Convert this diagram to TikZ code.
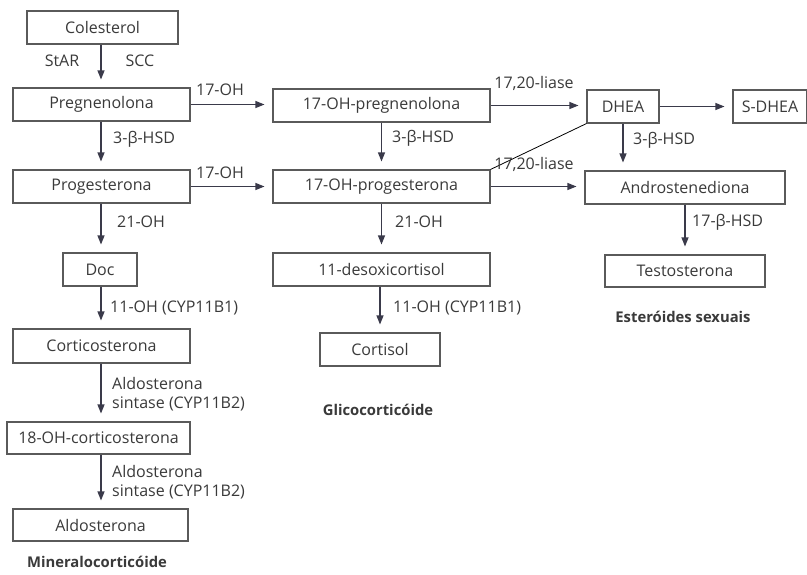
\documentclass[tikz,border=0pt]{standalone}
\usepackage{fontspec}
\setmainfont{Open Sans}
\usetikzlibrary{arrows.meta}
\definecolor{txt}{HTML}{3A3A3A}
\definecolor{boxc}{HTML}{5A5A5A}
\definecolor{arrc}{HTML}{3A3A4A}
\tikzset{
  box/.style={draw=boxc, line width=1.1pt, inner sep=0pt, text=txt, font=\fontsize{16}{19}\selectfont},
  arr/.style={draw=arrc, line width=1.1pt, -{Triangle[length=9pt,width=7pt]}, shorten >=8pt},
  lab/.style={text=txt, inner sep=0pt, font=\fontsize{16}{19}\selectfont},
  grp/.style={text=txt, inner sep=0pt, font=\fontsize{14.8}{18}\selectfont\bfseries},
}
\begin{document}
\begin{tikzpicture}[x=1pt,y=-1pt]
\useasboundingbox[fill=white] (0,0) rectangle (807,574);
% left column
\node[box, minimum width=151pt, minimum height=33pt] (col) at (102.5,27.5) {Colesterol};
\node[box, minimum width=177pt, minimum height=33pt] (preg) at (101.5,104.5) {Pregnenolona};
\node[box, minimum width=177pt, minimum height=33pt] (prog) at (101.5,186.5) {Progesterona};
\node[box, minimum width=74pt, minimum height=33pt] (doc) at (100,269.5) {Doc};
\node[box, minimum width=177pt, minimum height=34pt] (cort) at (101.5,346) {Corticosterona};
\node[box, minimum width=183pt, minimum height=32pt] (oh18) at (98.5,438) {18-OH-corticosterona};
\node[box, minimum width=175pt, minimum height=32pt] (aldo) at (100.5,525) {Aldosterona};
% middle column
\node[box, minimum width=217pt, minimum height=33pt] (ohpreg) at (381.5,105.5) {17-OH-pregnenolona};
\node[box, minimum width=217pt, minimum height=33pt] (ohprog) at (381.5,186.5) {17-OH-progesterona};
\node[box, minimum width=217pt, minimum height=33pt] (desoxi) at (381.5,269.5) {11-desoxicortisol};
\node[box, minimum width=120pt, minimum height=33pt] (cortisol) at (380,349.5) {Cortisol};
% right column
\node[box, minimum width=72pt, minimum height=33pt] (dhea) at (623,106.5) {DHEA};
\node[box, minimum width=74pt, minimum height=33pt] (sdhea) at (770,106.5) {S-DHEA};
\node[box, minimum width=200pt, minimum height=33pt] (andro) at (685,187.5) {Androstenediona};
\node[box, minimum width=160pt, minimum height=32pt] (testo) at (685,271) {Testosterona};
% vertical arrows
\coordinate (xl) at (101,0);
\draw[arr] (col.south -| xl) -- (preg.north -| xl);
\draw[arr] (preg.south -| xl) -- (prog.north -| xl);
\draw[arr] (prog.south -| xl) -- (doc.north -| xl);
\draw[arr] (doc.south -| xl) -- (cort.north -| xl);
\draw[arr] (cort.south -| xl) -- (oh18.north -| xl);
\draw[arr] (oh18.south -| xl) -- (aldo.north -| xl);
\draw[arr] (ohpreg.south) -- (ohprog.north);
\draw[arr] (ohprog.south) -- (desoxi.north);
\draw[arr] (desoxi.south -| cortisol.north) -- (cortisol.north);
\draw[arr] (dhea.south) -- (dhea.south |- andro.north);
\draw[arr] (andro.south) -- (testo.north);
% horizontal arrows
\draw[arr] (preg.east) -- (preg.east -| ohpreg.west);
\draw[arr] (prog.east) -- (prog.east -| ohprog.west);
\draw[arr] (ohpreg.east) -- (ohpreg.east -| dhea.west);
\draw[arr] (ohprog.east) -- (ohprog.east -| andro.west);
\draw[arr] (dhea.east) -- (sdhea.west);
% diagonal
\draw[black, line width=0.8pt] (dhea.south west) -- (ohprog.north east);
% labels
\node[lab] (l1) at (62,61) {StAR};
\node[lab] (l2) at (140,61) {SCC};
\node[lab] (l3) at (220,90) {17-OH};
\node[lab, anchor=west] (l4) at (113,139) {3-β-HSD};
\node[lab] (l5) at (220,173) {17-OH};
\node[lab, anchor=west] (l6) at (117,222) {21-OH};
\node[lab, anchor=west] (l7) at (110,308) {11-OH (CYP11B1)};
\node[lab, anchor=west, align=left] (l8) at (112,394) {Aldosterona\\sintase (CYP11B2)};
\node[lab, anchor=west, align=left] (l9) at (112,482) {Aldosterona\\sintase (CYP11B2)};
\node[lab, anchor=west] (l10) at (392,138) {3-β-HSD};
\node[lab, anchor=west] (l11) at (395,222) {21-OH};
\node[lab, anchor=west] (l12) at (393,308) {11-OH (CYP11B1)};
\node[lab] (l13) at (534,83) {17,20-liase};
\node[lab] (l14) at (534,164) {17,20-liase};
\node[lab, anchor=west] (l15) at (633,140) {3-β-HSD};
\node[lab, anchor=west] (l16) at (692,222) {17-β-HSD};
% group titles
\node[grp] (g1) at (683,317) {Esteróides sexuais};
\node[grp] (g2) at (378,410) {Glicocorticóide};
\node[grp] (g3) at (97,562) {Mineralocorticóide};
\end{tikzpicture}
\end{document}
